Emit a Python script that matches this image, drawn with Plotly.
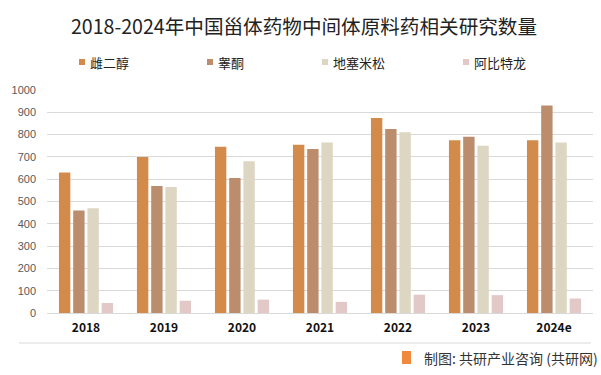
import plotly.graph_objects as go

years = ["2018", "2019", "2020", "2021", "2022", "2023", "2024e"]
series_names = ["雌二醇", "睾酮", "地塞米松", "阿比特龙"]
estradiol = [630, 700, 745, 755, 875, 775, 775]
testosterone = [460, 570, 605, 735, 825, 790, 930]
dexamethasone = [470, 565, 680, 765, 810, 750, 765]
abiraterone = [45, 55, 60, 50, 82, 80, 65]
y_ticks = [0, 100, 200, 300, 400, 500, 600, 700, 800, 900, 1000]

colors = ["#D38B4C", "#BC8D6C", "#DDD6C3", "#E2C8C6"]
values = [estradiol, testosterone, dexamethasone, abiraterone]

FONT = "Noto Sans CJK SC"

fig = go.Figure()
for name, vals, col in zip(series_names, values, colors):
    fig.add_trace(go.Bar(x=years, y=vals, name=name, marker=dict(color=col, line=dict(width=0)),
                         showlegend=False))

fig.update_layout(
    width=601, height=375,
    margin=dict(l=47, r=8, t=90, b=62),
    paper_bgcolor="white", plot_bgcolor="white",
    barmode="group", bargap=0.27, bargroupgap=0.2,
    font=dict(family=FONT, color="#333333"),
    title=dict(text="2018-2024年中国甾体药物中间体原料药相关研究数量", x=304 / 601, xanchor="center",
               y=1 - 27 / 375, yanchor="middle", font=dict(size=19.6, color="#222222", family=FONT)),
    xaxis=dict(showgrid=False, showline=False, ticks="", ticklabelstandoff=6,
               tickfont=dict(size=12, color="#111111", family=FONT, weight="bold")),
    yaxis=dict(range=[0, 1000], tickvals=y_ticks, showgrid=True, gridcolor="#D9D9D9", gridwidth=1,
               zeroline=True, zerolinecolor="#D9D9D9", zerolinewidth=1, showline=False, ticks="",
               ticklabelstandoff=10, tickfont=dict(size=11, color="#595959", family="Liberation Sans")),
)

# legend drawn manually (positions follow the reference)
legend_x = [79, 207, 322, 463]
for name, col, lx in zip(series_names, colors, legend_x):
    fig.add_shape(type="rect", xref="paper", yref="paper",
                  x0=(lx - 47) / 546, x1=(lx + 6 - 47) / 546,
                  y0=(313 - 65) / 223, y1=(313 - 59) / 223,
                  fillcolor=col, line=dict(width=0))
    fig.add_annotation(text=name, xref="paper", yref="paper", x=(lx + 9 - 47) / 546,
                       y=(313 - 62) / 223, xanchor="left", yanchor="middle", showarrow=False,
                       font=dict(size=13, color="#222222", family=FONT))

# bottom separator line
fig.add_shape(type="line", xref="paper", yref="paper", x0=(19 - 47) / 546, x1=(591 - 47) / 546,
              y0=(313 - 343) / 223, y1=(313 - 343) / 223, line=dict(color="#D9D9D9", width=1))

# footer logo + source
fig.add_shape(type="rect", xref="paper", yref="paper", x0=(402 - 47) / 546, x1=(411 - 47) / 546,
              y0=(313 - 364) / 223, y1=(313 - 351) / 223, fillcolor="#F0883E", line=dict(width=0))
fig.add_annotation(text="制图: 共研产业咨询 (共研网)", xref="paper", yref="paper",
                   x=(422 - 47) / 546, y=(313 - 358) / 223, xanchor="left", yanchor="middle",
                   showarrow=False, font=dict(size=14, color="#333333", family=FONT))

fig.write_html("out.html", config={"displayModeBar": False},
               post_script="document.body.style.margin='0';")
